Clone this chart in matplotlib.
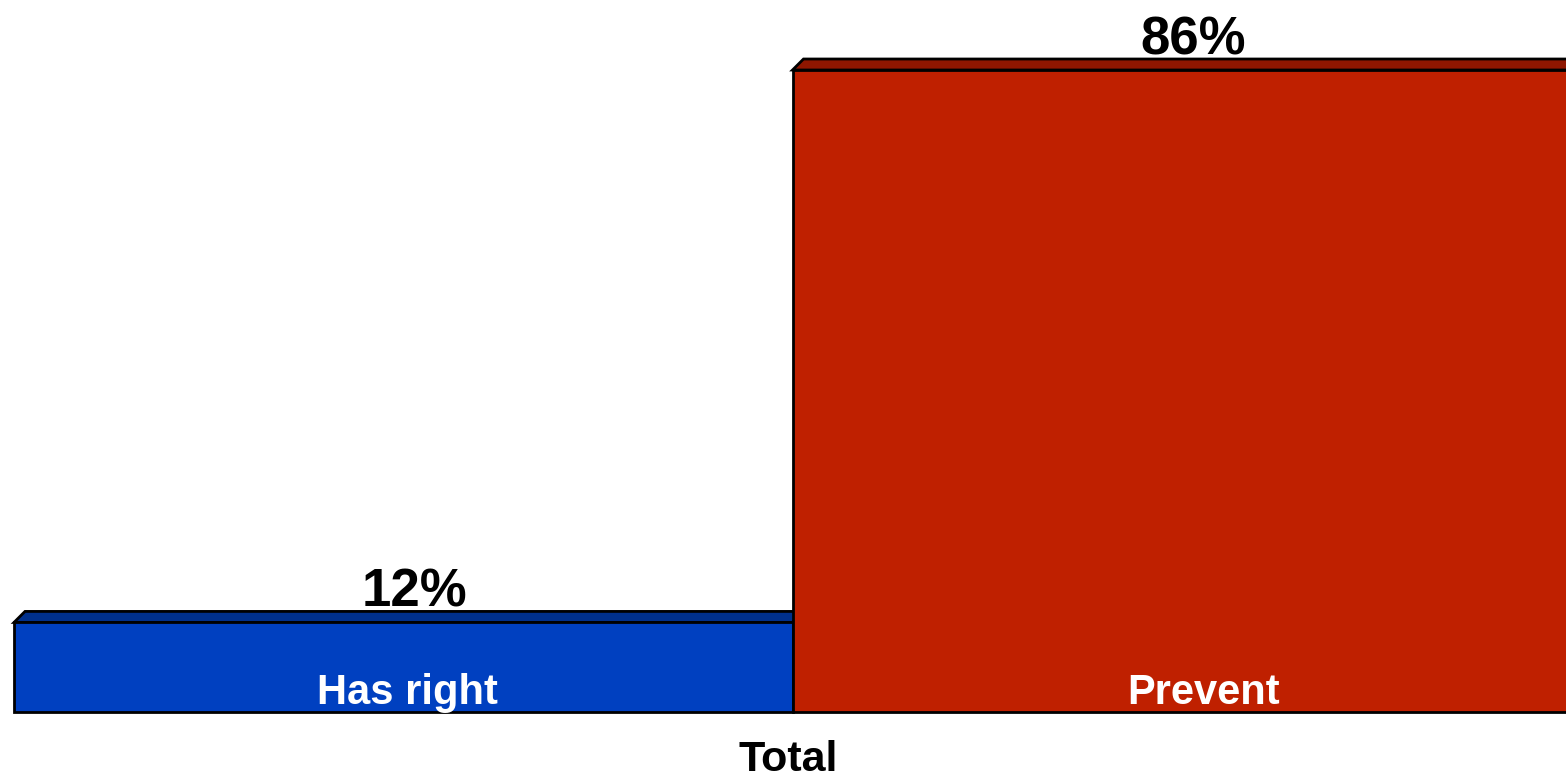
import matplotlib.pyplot as plt
from matplotlib.patches import Polygon

### data ###
categories = ["Has right", "Prevent"]
values = [12, 86]
value_labels = ["12%", "86%"]
group_label = "Total"

front_colors = ["#0040C0", "#BF2000"]
top_colors = ["#00308C", "#8F1600"]

### layout (pixels of the 1566x778 figure) ###
W, H = 1566, 778
base_px = 712          # bar baseline from top
px_per_unit = 7.465    # vertical pixels per percent
bar_px = 778.5         # bar width in pixels
left_px = 14           # left edge of first bar
depth_px = 11          # 3d top face offset
PT = 0.72              # points per pixel at dpi 100

fig = plt.figure(figsize=(W / 100, H / 100), dpi=100)
ax = fig.add_axes([0, 0, 1, 1])
ax.set_xlim(-1 - left_px / bar_px, (W - left_px - bar_px) / bar_px)
ax.set_ylim(-(H - base_px) / px_per_unit, base_px / px_per_unit)
ax.axis("off")

dx = depth_px / bar_px
dy = depth_px / px_per_unit
lefts = [-1, 0]

for i, (name, v) in enumerate(zip(categories, values)) :
  x0 = lefts[i]
  x1 = x0 + 1
  z = 2 + i * 2
  # top face (drawn behind the front face)
  top = Polygon([(x0, v), (x0 + dx, v + dy), (x1 + dx, v + dy), (x1, v)],
                closed=True, facecolor=top_colors[i], edgecolor="black",
                linewidth=2, zorder=z, joinstyle="miter")
  ax.add_patch(top)
  ax.bar(x0, v, width=1, align="edge", color=front_colors[i],
         edgecolor="black", linewidth=2, zorder=z + 1)

  # value on top
  ax.annotate(value_labels[i], (x0 + 0.5, v + dy), xytext=(11.5 * PT, 5 * PT),
              textcoords="offset points", ha="center", va="baseline",
              fontsize=38, fontweight="bold", family="Liberation Sans",
              color="black", zorder=10)

# inside labels, sit near the bottom of the bars
inner_shift = [4.5, 21.5]  # px, as in the original
for i, name in enumerate(categories) :
  ax.annotate(name, (lefts[i] + 0.5, 0), xytext=(inner_shift[i] * PT, 8 * PT),
              textcoords="offset points", ha="center", va="baseline",
              fontsize=30, fontweight="bold", family="Liberation Sans",
              color="white", zorder=10)

# category label under the group
ax.annotate(group_label, (0, 0), xytext=(-4.5 * PT, -59 * PT),
            textcoords="offset points", ha="center", va="baseline",
            fontsize=31, fontweight="bold", family="Liberation Sans",
            color="black")

fig.savefig("out.png", dpi=100)
